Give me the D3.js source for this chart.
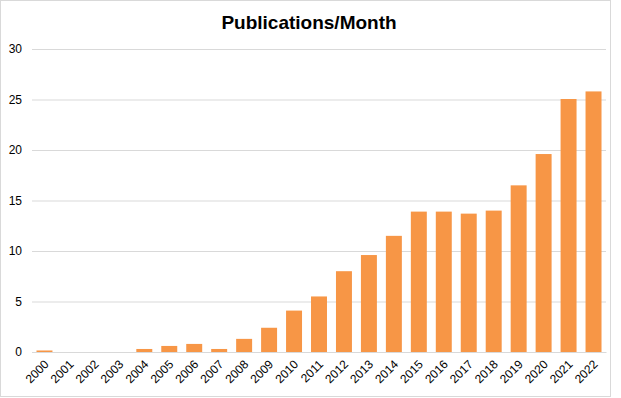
<!DOCTYPE html>
<html><head><meta charset="utf-8">
<script src="https://cdn.jsdelivr.net/npm/d3@7"></script>
<style>body{margin:0;background:#fff}svg{display:block}text{font-family:"Liberation Sans",Arial,sans-serif}</style>
</head><body>
<script>
const years = ["2000","2001","2002","2003","2004","2005","2006","2007","2008","2009","2010","2011","2012","2013","2014","2015","2016","2017","2018","2019","2020","2021","2022"];
const publications = [0.15,0,0,0,0.3,0.6,0.8,0.3,1.3,2.4,4.1,5.5,8.0,9.6,11.5,13.9,13.9,13.7,14.0,16.5,19.6,25.05,25.8];
const yTicks = [0,5,10,15,20,25,30];
const title = "Publications/Month";

const W=621,H=398;
const svg=d3.select("body").append("svg").attr("width",W).attr("height",H);
svg.append("rect").attr("x",0.5).attr("y",0.5).attr("width",610).attr("height",396)
  .attr("fill","#fff").attr("stroke","#d9d9d9");
const m={l:32,r:606,t:49,b:352};
const x=d3.scaleBand().domain(years).range([m.l,m.r]).paddingInner(0.36).paddingOuter(0.18);
const y=d3.scaleLinear().domain([0,30]).range([m.b,m.t]);

const gy=svg.append("g").attr("transform",`translate(${m.l},0)`)
  .call(d3.axisLeft(y).tickValues(yTicks).tickSize(-(m.r-m.l)).tickPadding(10));
gy.select(".domain").remove();
gy.selectAll(".tick line").attr("stroke","#d9d9d9");
gy.selectAll(".tick text").attr("font-size",12).attr("fill","#000").attr("x",-10);

svg.append("g").selectAll("rect").data(years).join("rect")
  .attr("x",d=>x(d)).attr("width",x.bandwidth())
  .attr("y",(d,i)=>y(publications[i])).attr("height",(d,i)=>y(0)-y(publications[i]))
  .attr("fill","#f79646");

const gx=svg.append("g").attr("transform",`translate(0,${m.b})`)
  .call(d3.axisBottom(x).tickSize(0).tickPadding(0));
gx.select(".domain").attr("stroke","#d9d9d9");
gx.selectAll(".tick text").attr("font-size",12).attr("fill","#000")
  .attr("text-anchor","end").attr("dy",0).attr("y",0)
  .attr("transform","translate(5,13) rotate(-45)");

svg.append("text").attr("x",309).attr("y",29).attr("text-anchor","middle")
  .attr("font-size",19).attr("font-weight","bold").attr("fill","#000").text(title);
</script>
</body></html>
